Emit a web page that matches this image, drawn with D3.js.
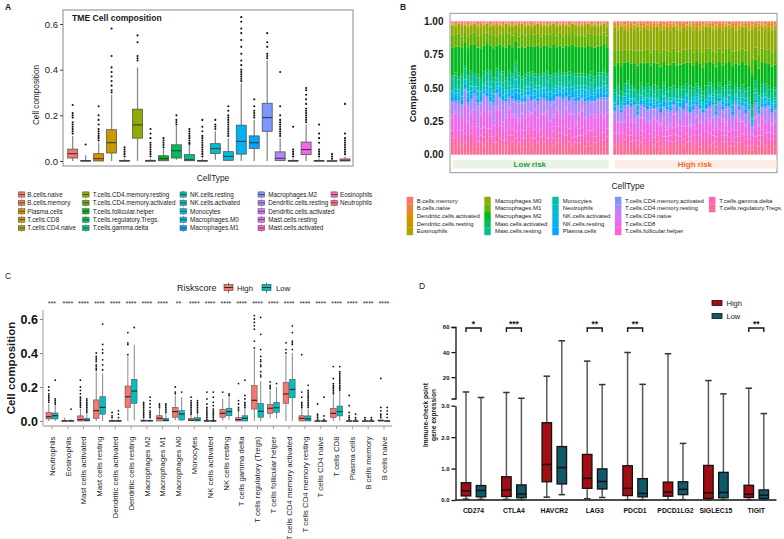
<!DOCTYPE html>
<html><head><meta charset="utf-8">
<script src="https://cdn.jsdelivr.net/npm/d3@7"></script>
<style>body{margin:0;background:#fff} svg{display:block}</style>
</head><body><svg id="c" width="784" height="539"></svg>
<script>
// ---------------- DATA ----------------
// Panel A
const cellTypesA = ["B.cells.naive","B.cells.memory","Plasma.cells","T.cells.CD8","T.cells.CD4.naive","T.cells.CD4.memory.resting","T.cells.CD4.memory.activated","T.cells.follicular.helper","T.cells.regulatory.Tregs.","T.cells.gamma.delta","NK.cells.resting","NK.cells.activated","Monocytes","Macrophages.M0","Macrophages.M1","Macrophages.M2","Dendritic.cells.resting","Dendritic.cells.activated","Mast.cells.resting","Mast.cells.activated","Eosinophils","Neutrophils"];
const aLo  = [0,0,0,0,0,0,0,0,0.005,0,0,0.005,0,0,0,0,0,0,0,0,0,0];
const aQ1  = [0.013,0,0,0.035,0,0.1,0,0.001,0.013,0.001,0,0.033,0.003,0.03,0.055,0.13,0.002,0,0.028,0,0,0];
const aMed = [0.032,0,0.01,0.08,0,0.158,0,0.01,0.045,0.005,0,0.054,0.02,0.086,0.08,0.19,0.012,0,0.05,0,0,0.003];
const aQ3  = [0.052,0.002,0.032,0.137,0.002,0.227,0.003,0.023,0.071,0.028,0.002,0.076,0.041,0.157,0.11,0.253,0.04,0.002,0.083,0.002,0.001,0.009];
const aHi  = [0.11,0.025,0.08,0.29,0.01,0.41,0.01,0.055,0.155,0.07,0.01,0.13,0.1,0.34,0.18,0.44,0.1,0.01,0.16,0.01,0.005,0.02];
const aOut = [
 [0.12,0.13,0.14,0.15,0.16,0.17,0.19,0.2,0.21,0.245],
 [0.072],
 [0.09,0.1,0.11,0.12,0.13,0.14,0.16,0.18,0.2,0.24],
 [0.3,0.31,0.33,0.35,0.37,0.39,0.41,0.46,0.58],
 [0.02,0.03,0.04,0.05,0.06],
 [0.44,0.45,0.46,0.52,0.55],
 [0.02,0.03,0.04,0.05,0.06,0.07,0.08,0.1,0.12,0.14],
 [0.06,0.07,0.08,0.09,0.1],
 [0.16,0.17,0.18,0.2],
 [0.075,0.08,0.09,0.1,0.11,0.12,0.13,0.14],
 [0.02,0.03,0.04,0.05,0.06,0.07,0.08,0.09,0.1,0.11,0.13,0.15,0.18],
 [0.14,0.15,0.16,0.18],
 [0.11,0.12,0.13,0.14,0.15,0.16,0.17,0.18,0.19,0.2,0.22,0.24],
 [0.35,0.36,0.37,0.38,0.39,0.4,0.42,0.44,0.47,0.5,0.53,0.56,0.58,0.61,0.63],
 [0.19,0.2,0.21,0.22,0.24,0.27],
 [0.45,0.46,0.47,0.5,0.52,0.56],
 [0.11,0.12,0.13,0.14,0.15,0.16,0.17,0.18,0.2,0.24,0.39],
 [0.02,0.03,0.04,0.05,0.15],
 [0.17,0.18,0.19,0.2,0.21,0.22,0.23,0.25,0.27,0.29,0.31,0.32],
 [0.02,0.03,0.04,0.05,0.08,0.1,0.12,0.16],
 [0.01,0.02,0.03],
 [0.03,0.04,0.05,0.06,0.07,0.08,0.09,0.1,0.12,0.25]
];
const aTicks = [0,0.2,0.4,0.6];

// Panel B
const bTypes = ["B.cells.memory","B.cells.naive","Dendritic.cells.activated","Dendritic.cells.resting","Eosinophils","Macrophages.M0","Macrophages.M1","Macrophages.M2","Mast.cells.activated","Mast.cells.resting","Monocytes","Neutrophils","NK.cells.activated","NK.cells.resting","Plasma.cells","T.cells.CD4.memory.activated","T.cells.CD4.memory.resting","T.cells.CD4.naive","T.cells.CD8","T.cells.follicular.helper","T.cells.gamma.delta","T.cells.regulatory.Tregs."];
const bGroups = ["Low risk","High risk"];
const bTicks = [0,0.25,0.5,0.75,1];
// per-sample fractions of colour bands (Tregs / pink / purple / blue / orange; green = remainder)
const bTregsLow  = [0.08,0.06,0.1,0.07,0.09,0.05,0.11,0.08,0.06,0.09,0.07,0.1,0.08,0.05,0.09,0.12,0.07,0.06,0.08,0.1,0.07,0.09,0.06,0.08,0.11,0.07,0.05,0.09,0.08,0.1,0.06,0.08,0.07,0.09,0.12,0.06,0.08,0.1,0.07,0.05,0.09,0.08,0.06,0.1,0.07,0.09,0.08,0.11,0.06,0.08];
const bPinkLow   = [0.2,0.25,0.16,0.22,0.28,0.18,0.2,0.24,0.15,0.21,0.27,0.19,0.23,0.17,0.25,0.2,0.14,0.22,0.26,0.18,0.21,0.16,0.24,0.2,0.19,0.23,0.28,0.17,0.22,0.2,0.25,0.15,0.21,0.24,0.18,0.2,0.26,0.19,0.23,0.17,0.21,0.25,0.2,0.16,0.22,0.19,0.24,0.18,0.21,0.23];
const bPurpleLow = [0.12,0.1,0.15,0.09,0.13,0.16,0.11,0.14,0.18,0.1,0.12,0.15,0.09,0.17,0.13,0.11,0.2,0.12,0.1,0.14,0.13,0.16,0.1,0.12,0.15,0.11,0.09,0.14,0.13,0.12,0.1,0.17,0.13,0.11,0.14,0.16,0.1,0.12,0.13,0.18,0.11,0.1,0.14,0.15,0.12,0.13,0.1,0.14,0.16,0.12];
const bBlueLow   = [0.1,0.12,0.08,0.14,0.09,0.11,0.13,0.07,0.12,0.1,0.08,0.11,0.15,0.09,0.1,0.12,0.13,0.08,0.11,0.1,0.22,0.12,0.09,0.11,0.08,0.13,0.1,0.12,0.09,0.11,0.14,0.1,0.12,0.08,0.1,0.11,0.09,0.13,0.1,0.12,0.11,0.09,0.12,0.1,0.13,0.08,0.11,0.1,0.12,0.09];
const bOrangeLow = [0.03,0.04,0.02,0.05,0.03,0.04,0.03,0.02,0.04,0.05,0.03,0.02,0.04,0.03,0.05,0.03,0.04,0.02,0.03,0.04,0.03,0.05,0.02,0.04,0.03,0.04,0.03,0.02,0.05,0.03,0.04,0.03,0.02,0.04,0.03,0.05,0.03,0.04,0.02,0.03,0.04,0.03,0.05,0.02,0.04,0.03,0.04,0.03,0.02,0.04];
const bTregsHigh  = [0.07,0.05,0.09,0.06,0.08,0.1,0.05,0.07,0.09,0.06,0.08,0.05,0.07,0.1,0.06,0.08,0.07,0.05,0.09,0.06,0.08,0.07,0.1,0.05,0.07,0.09,0.06,0.08,0.05,0.07,0.09,0.06,0.08,0.1,0.05,0.07,0.06,0.08,0.09,0.05,0.07,0.06,0.04,0.08,0.06,0.09,0.07,0.05,0.08,0.06];
const bPinkHigh   = [0.16,0.2,0.14,0.18,0.22,0.15,0.19,0.13,0.17,0.21,0.15,0.18,0.2,0.14,0.16,0.19,0.12,0.17,0.21,0.15,0.18,0.14,0.2,0.16,0.13,0.19,0.17,0.15,0.22,0.16,0.18,0.14,0.2,0.15,0.17,0.19,0.13,0.18,0.16,0.2,0.14,0.17,0.1,0.19,0.15,0.18,0.16,0.21,0.14,0.17];
const bPurpleHigh = [0.1,0.12,0.09,0.13,0.08,0.11,0.14,0.1,0.12,0.09,0.11,0.13,0.08,0.12,0.1,0.09,0.15,0.11,0.08,0.12,0.1,0.13,0.09,0.11,0.14,0.1,0.12,0.09,0.08,0.13,0.11,0.1,0.12,0.09,0.14,0.1,0.11,0.13,0.09,0.12,0.1,0.11,0.08,0.12,0.1,0.09,0.13,0.11,0.1,0.12];
const bBlueHigh   = [0.08,0.1,0.07,0.09,0.11,0.08,0.06,0.1,0.09,0.07,0.12,0.08,0.1,0.07,0.09,0.11,0.08,0.1,0.06,0.09,0.08,0.1,0.07,0.12,0.09,0.08,0.1,0.07,0.09,0.11,0.08,0.1,0.07,0.09,0.08,0.12,0.1,0.07,0.09,0.08,0.11,0.09,0.06,0.1,0.08,0.09,0.1,0.07,0.09,0.08];
const bOrangeHigh = [0.05,0.07,0.04,0.06,0.08,0.05,0.06,0.04,0.07,0.05,0.06,0.08,0.05,0.04,0.07,0.06,0.05,0.08,0.04,0.06,0.07,0.05,0.06,0.04,0.08,0.05,0.07,0.06,0.04,0.05,0.07,0.06,0.05,0.08,0.04,0.06,0.05,0.07,0.06,0.04,0.05,0.07,0.06,0.05,0.08,0.04,0.06,0.05,0.07,0.06];
// share of each cell type inside its colour band
const orangeShareLow = [0.3,0.25,0.15,0.15,0.15], orangeShareHigh = [0.2,0.2,0.15,0.2,0.25];
const greenShareLow  = [0.15,0.2,0.45,0.05,0.15], greenShareHigh  = [0.32,0.2,0.33,0.05,0.1];
const blueShare   = [0.25,0.05,0.3,0.15,0.25];
const purpleShare = [0.15,0.7,0.15];
const pinkShareLow = [0.5,0.25,0.25], pinkShareHigh = [0.45,0.25,0.3];

// Panel C
const cCats = ["Neutrophils","Eosinophils","Mast cells activated","Mast cells resting","Dendritic cells activated","Dendritic cells resting","Macrophages M2","Macrophages M1","Macrophages M0","Monocytes","NK cells activated","NK cells resting","T cells gamma delta","T cells regulatory (Tregs)","T cells follicular helper","T cells CD4 memory activated","T cells CD4 memory resting","T cells CD4 naive","T cells CD8","Plasma cells","B cells memory","B cells naive"];
const cSig = ["***","****","****","****","****","****","****","****","**","****","****","****","****","****","****","****","****","****","****","****","****","****"];
const cTicks = [0,0.2,0.4,0.6];
const cGroups = ["High","Low"];
const cHigh = [[0,0.012,0.025,0.051,0.1],[0,0,0,0.002,0.02],[0,0,0.008,0.03,0.07],[0,0.016,0.061,0.124,0.29],[0,0,0,0.002,0.01],[0,0.08,0.143,0.206,0.38],[0,0,0.001,0.005,0.012],[0,0,0.016,0.031,0.075],[0.005,0.022,0.055,0.08,0.15],[0,0.002,0.005,0.016,0.035],[0,0,0,0.002,0.005],[0.003,0.022,0.045,0.069,0.13],[0,0,0.008,0.02,0.05],[0,0.07,0.122,0.208,0.42],[0.015,0.045,0.075,0.098,0.18],[0,0.104,0.159,0.227,0.39],[0,0,0.016,0.031,0.075],[0,0,0,0.001,0.005],[0,0.02,0.045,0.075,0.15],[0,0,0,0.001,0.005],[0,0,0,0.001,0.005],[0,0,0.002,0.006,0.01]];
const cLow = [[0,0.012,0.031,0.047,0.095],[0,0,0,0.002,0.01],[0,0,0.005,0.016,0.04],[0,0.04,0.08,0.143,0.28],[0,0,0,0.002,0.01],[0.005,0.104,0.176,0.245,0.45],[0,0,0.001,0.004,0.01],[0,0,0.005,0.016,0.04],[0,0.006,0.041,0.061,0.14],[0,0,0.006,0.02,0.045],[0,0,0,0.002,0.005],[0.005,0.031,0.055,0.075,0.14],[0,0,0.016,0.031,0.075],[0,0.022,0.057,0.104,0.235],[0.015,0.051,0.078,0.11,0.2],[0,0.137,0.186,0.245,0.4],[0,0,0.012,0.03,0.07],[0,0,0,0.001,0.005],[0.002,0.03,0.055,0.088,0.17],[0,0,0,0.001,0.005],[0,0,0,0.001,0.005],[0,0,0,0.001,0.005]];
const cHighOut = [[0.11,0.12,0.13,0.14,0.15,0.16,0.18,0.2],[],[0.08,0.09,0.1,0.11,0.12,0.13,0.14,0.16,0.18,0.2,0.24],[0.3,0.31,0.32,0.33,0.35,0.36,0.37,0.38,0.4],[0.02,0.03,0.05],[0.39,0.45,0.46,0.52],[0.02,0.03,0.04,0.05,0.06,0.07,0.08,0.09,0.1,0.11],[0.08,0.09,0.1],[0.16,0.17,0.2],[0.04,0.05,0.06,0.07,0.08,0.09,0.1,0.11,0.12,0.14],[0.01,0.02,0.03,0.04,0.05,0.06,0.07,0.08,0.1,0.13,0.17],[0.17],[0.06,0.07,0.08,0.1,0.12,0.22],[0.43,0.47,0.54,0.56,0.58,0.6,0.62],[0.19,0.2,0.21,0.23],[0.4,0.42,0.46],[0.08,0.09,0.1,0.11,0.14,0.17,0.39],[0.01,0.02,0.03,0.04,0.1],[0.16,0.17,0.18,0.19,0.2,0.21,0.22,0.25,0.32],[0.01,0.02,0.03,0.05,0.09,0.15],[0.01,0.02],[0.02,0.03,0.04,0.06,0.08,0.25]];
const cLowOut = [[0.1,0.11,0.12,0.13,0.24],[0.07],[0.05,0.06,0.07,0.08,0.09,0.1,0.11,0.12,0.13],[0.3,0.33,0.36,0.4,0.42,0.45,0.57],[0.02,0.04,0.06],[0.55],[0.02,0.03,0.04,0.05,0.06,0.08,0.1,0.12,0.14],[0.05,0.06,0.07,0.08,0.09,0.1],[0.17],[0.05,0.06,0.07,0.08,0.09,0.1,0.11,0.12],[0.01,0.02,0.03,0.04,0.05,0.06,0.07,0.09,0.11,0.14,0.17],[0.15,0.16],[0.08,0.09,0.1,0.11,0.13,0.15,0.24],[0.26,0.27,0.29,0.32,0.33,0.35,0.36,0.38,0.42,0.51,0.61],[0.22],[0.42,0.45,0.46,0.47,0.52,0.56],[0.08,0.09,0.1,0.11,0.12,0.13,0.14,0.15,0.16,0.17,0.18,0.21],[0.01,0.03,0.14],[0.18,0.19,0.2,0.21,0.22,0.23,0.24,0.25,0.26,0.27,0.28,0.29,0.32],[0.01,0.02,0.04],[0.01,0.02],[0.02,0.04,0.06,0.08]];

// Panel D
const dGenes = ["CD274","CTLA4","HAVCR2","LAG3","PDCD1","PDCD1LG2","SIGLEC15","TIGIT"];
const dGroups = ["High","Low"];
const dHigh = [[0.03,0.13,0.29,0.55,8.2],[0.02,0.11,0.32,0.74,7.8],[0.09,0.58,1.13,2.46,20.8],[0.04,0.37,0.69,1.45,32.8],[0.01,0.14,0.37,1.09,39.7],[0.01,0.12,0.25,0.57,38.7],[0.01,0.05,0.23,1.1,17.3],[0.01,0.08,0.18,0.47,11.2]];
const dLow  = [[0.02,0.1,0.3,0.46,3.8],[0.01,0.07,0.19,0.48,3.2],[0.17,0.51,1.03,1.7,49],[0.08,0.35,0.59,0.99,14.1],[0.01,0.1,0.21,0.68,14.3],[0.01,0.17,0.34,0.58,1.8],[0.01,0.07,0.24,0.88,6.7],[0.01,0.05,0.15,0.32,2.75]];
const dSig = ["*","***","","**","**","","","**"];
const dTicksLow = [0,1,2,3], dTicksUp = [20,40,60];

// ---------------- HELPERS ----------------
const FONT = "'Liberation Sans', Arial, Helvetica, sans-serif";
function hclLuv(h, c, l) {
  const hr = h * Math.PI / 180, u = c * Math.cos(hr), v = c * Math.sin(hr);
  const Xn = 95.047, Yn = 100, Zn = 108.883, den = Xn + 15 * Yn + 3 * Zn;
  const un = 4 * Xn / den, vn = 9 * Yn / den;
  const Y = l > 8 ? Yn * Math.pow((l + 16) / 116, 3) : Yn * l / 903.3;
  const up = u / (13 * l) + un, vp = v / (13 * l) + vn;
  const X = 9 * Y * up / (4 * vp), Z = Y * (12 - 3 * up - 20 * vp) / (4 * vp);
  const x = X / 100, y = Y / 100, z = Z / 100;
  let rgb = [3.240479 * x - 1.537150 * y - 0.498535 * z, -0.969256 * x + 1.875992 * y + 0.041556 * z, 0.055648 * x - 0.204043 * y + 1.057311 * z];
  rgb = rgb.map(t => { t = t <= 0.0031308 ? 12.92 * t : 1.055 * Math.pow(t, 1 / 2.4) - 0.055; return Math.max(0, Math.min(1, t)) * 255; });
  return d3.rgb(rgb[0], rgb[1], rgb[2]).formatHex();
}
const pal22 = d3.range(22).map(i => hclLuv(15 + 360 * i / 22, 100, 65));
const pal2 = [hclLuv(15, 100, 65), hclLuv(195, 100, 65)];

function drawBox(g, cx, w, s, y, st) {
  const [lo, q1, md, q3, hi] = s;
  g.append("line").attr("x1", cx).attr("x2", cx).attr("y1", y(hi)).attr("y2", y(q3)).attr("stroke", st.whisker).attr("stroke-width", st.ww);
  g.append("line").attr("x1", cx).attr("x2", cx).attr("y1", y(q1)).attr("y2", y(lo)).attr("stroke", st.whisker).attr("stroke-width", st.ww);
  if (st.cap) {
    [hi, lo].forEach(v => g.append("line").attr("x1", cx - st.cap / 2).attr("x2", cx + st.cap / 2).attr("y1", y(v)).attr("y2", y(v)).attr("stroke", st.capColor).attr("stroke-width", st.ww));
  }
  g.append("rect").attr("x", cx - w / 2).attr("y", y(q3)).attr("width", w).attr("height", Math.max(0.5, y(q1) - y(q3)))
    .attr("fill", st.fill).attr("stroke", st.stroke).attr("stroke-width", st.sw);
  g.append("line").attr("x1", cx - w / 2).attr("x2", cx + w / 2).attr("y1", y(md)).attr("y2", y(md)).attr("stroke", st.med).attr("stroke-width", st.mw);
}
function txt(g, x, y, s, size, opt = {}) {
  const t = g.append("text").attr("x", x).attr("y", y).text(s).attr("font-family", FONT).attr("font-size", size)
    .attr("fill", opt.fill || "#1a1a1a").attr("text-anchor", opt.anchor || "start");
  if (opt.bold) t.attr("font-weight", "bold");
  if (opt.rotate) t.attr("transform", `rotate(${opt.rotate},${x},${y})`);
  return t;
}
const svg = d3.select("#c");

// ---------------- PANEL A ----------------
{
  const g = svg.append("g");
  txt(g, 5, 9.5, "A", 8.5, { bold: true });
  const x = d3.scaleBand().domain(cellTypesA).range([66.2, 351.5]);
  const y = d3.scaleLinear().domain([0, 0.6]).range([161, 24]);
  g.append("rect").attr("x", 63).attr("y", 10).attr("width", 290).attr("height", 156).attr("fill", "none").attr("stroke", "#7a7a7a").attr("stroke-width", 0.9);
  const ax = g.append("g").attr("transform", "translate(63,0)")
    .call(d3.axisLeft(y).tickValues(aTicks).tickFormat(d3.format(".1f")).tickSize(3).tickPadding(2));
  ax.select(".domain").remove();
  ax.selectAll("text").attr("font-size", 9.5).attr("font-family", FONT).attr("fill", "#1a1a1a");
  ax.selectAll("line").attr("stroke", "#444");
  txt(g, 72, 20.5, "TME Cell composition", 8.6, { bold: true });
  txt(g, 39, 95, "Cell composition", 8.2, { anchor: "middle", rotate: -90 });
  txt(g, 213, 181, "CellType", 8.3, { anchor: "middle" });
  cellTypesA.forEach((c, i) => {
    const cx = x(c) + x.bandwidth() / 2;
    drawBox(g, cx, 10, [aLo[i], aQ1[i], aMed[i], aQ3[i], aHi[i]], y,
      { fill: pal22[i], stroke: "#555", sw: 0.8, whisker: "#8a8a8a", ww: 1.3, med: "#333", mw: 1 });
    aOut[i].forEach(v => g.append("circle").attr("cx", cx).attr("cy", y(v)).attr("r", 1.05).attr("fill", "#111"));
  });
  // legend
  const colSw = [18.3, 82.5, 180, 258, 331], colTx = [27.3, 92.7, 190, 268.3, 340];
  cellTypesA.forEach((c, i) => {
    const col = Math.floor(i / 5), row = i % 5, cy = 194.5 + row * 8.4, sx = colSw[col];
    g.append("line").attr("x1", sx + 3.3).attr("x2", sx + 3.3).attr("y1", cy - 3.6).attr("y2", cy + 3.6).attr("stroke", "#777").attr("stroke-width", 0.8);
    g.append("rect").attr("x", sx).attr("y", cy - 2.6).attr("width", 6.6).attr("height", 5.2).attr("fill", pal22[i]).attr("stroke", "#555").attr("stroke-width", 0.5);
    g.append("line").attr("x1", sx).attr("x2", sx + 6.6).attr("y1", cy).attr("y2", cy).attr("stroke", "#333").attr("stroke-width", 0.7);
    txt(g, colTx[col], cy + 2.2, c, 6.3);
  });
}

// ---------------- PANEL B ----------------
{
  const g = svg.append("g");
  txt(g, 400, 9.5, "B", 8.5, { bold: true });
  const y = d3.scaleLinear().domain([0, 1]).range([154.7, 21.3]);
  g.append("rect").attr("x", 450).attr("y", 13.3).attr("width", 327).attr("height", 159.4).attr("fill", "none").attr("stroke", "#8a8a8a").attr("stroke-width", 0.9);
  const ax = g.append("g").attr("transform", "translate(450,0)").call(d3.axisLeft(y).tickValues(bTicks).tickFormat(d3.format(".2f")).tickSize(0).tickPadding(6.5));
  ax.select(".domain").remove();
  ax.selectAll("text").attr("font-size", 10).attr("font-weight", "bold").attr("font-family", FONT).attr("fill", "#1a1a1a");
  txt(g, 415.5, 93.5, "Composition", 9.4, { bold: true, anchor: "middle", rotate: -90 });
  const ranges = [[451, 608.7], [613.3, 776.6]];
  const strips = [{ fill: "#EAF3E5", col: "#2E9B47" }, { fill: "#FBEDE5", col: "#F0682F" }];
  const stackKeys = bTypes.slice().reverse();
  const groupsData = [
    { tr: bTregsLow, pk: bPinkLow, pu: bPurpleLow, bl: bBlueLow, or: bOrangeLow, os: orangeShareLow, gs: greenShareLow, ps: pinkShareLow },
    { tr: bTregsHigh, pk: bPinkHigh, pu: bPurpleHigh, bl: bBlueHigh, or: bOrangeHigh, os: orangeShareHigh, gs: greenShareHigh, ps: pinkShareHigh }
  ];
  groupsData.forEach((G, gi) => {
    const rows = G.tr.map((t, j) => {
      const green = 1 - (t + G.pk[j] + G.pu[j] + G.bl[j] + G.or[j]);
      const vals = [...G.os.map(s => s * G.or[j]), ...G.gs.map(s => s * green), ...blueShare.map(s => s * G.bl[j]),
        ...purpleShare.map(s => s * G.pu[j]), ...G.ps.map(s => s * G.pk[j]), t];
      const r = { id: j };
      bTypes.forEach((k, m) => r[k] = vals[m]);
      return r;
    });
    const x = d3.scaleBand().domain(rows.map(r => r.id)).range(ranges[gi]).paddingInner(0.12);
    const series = d3.stack().keys(stackKeys)(rows);
    series.forEach(s => {
      const col = pal22[bTypes.indexOf(s.key)];
      g.append("g").selectAll("rect").data(s).join("rect")
        .attr("x", d => x(d.data.id)).attr("width", x.bandwidth())
        .attr("y", d => y(d[1])).attr("height", d => Math.max(0, y(d[0]) - y(d[1]))).attr("fill", col);
    });
    g.append("rect").attr("x", ranges[gi][0] + 1.5).attr("y", 160).attr("width", ranges[gi][1] - ranges[gi][0] - 1.5).attr("height", 8.4).attr("fill", strips[gi].fill);
    txt(g, (ranges[gi][0] + ranges[gi][1]) / 2, 167.3, bGroups[gi], 8, { anchor: "middle", bold: true, fill: strips[gi].col });
  });
  txt(g, 628, 188.5, "CellType", 8.5, { anchor: "middle" });
  const colSw = [406.7, 484.3, 552.3, 615, 709], colTx = [416.7, 495, 562.7, 625, 719.3];
  bTypes.forEach((c, i) => {
    const col = Math.floor(i / 5), row = i % 5, cy = 200.7 + row * 7.65;
    g.append("rect").attr("x", colSw[col]).attr("y", cy - 3.9).attr("width", 6.4).attr("height", 7.8).attr("fill", pal22[i]);
    txt(g, colTx[col], cy + 2.1, c, 6);
  });
}

// ---------------- PANEL C ----------------
{
  const g = svg.append("g");
  txt(g, 5, 279, "C", 8.5);
  const x = d3.scaleBand().domain(cCats).range([44.1, 391.9]);
  const y = d3.scaleLinear().domain([0, 0.6]).range([421, 319]);
  g.append("line").attr("x1", 43).attr("x2", 43).attr("y1", 310).attr("y2", 426).attr("stroke", "#b3b3b3").attr("stroke-width", 1.3);
  g.append("line").attr("x1", 43).attr("x2", 392).attr("y1", 426).attr("y2", 426).attr("stroke", "#b3b3b3").attr("stroke-width", 1.3);
  const ax = g.append("g").attr("transform", "translate(43,0)").call(d3.axisLeft(y).tickValues(cTicks).tickFormat(d3.format(".1f")).tickSize(3).tickPadding(2));
  ax.select(".domain").remove();
  ax.selectAll("line").attr("stroke", "#888");
  ax.selectAll("text").attr("font-size", 12.5).attr("font-weight", "bold").attr("font-family", FONT).attr("fill", "#111");
  txt(g, 14.5, 368, "Cell composition", 11.5, { bold: true, anchor: "middle", rotate: -90 });
  cCats.forEach((c, i) => {
    const cx = x(c) + x.bandwidth() / 2;
    g.append("line").attr("x1", cx).attr("x2", cx).attr("y1", 426).attr("y2", 429).attr("stroke", "#888").attr("stroke-width", 0.8);
    txt(g, cx, 305.5, cSig[i], 6.8, { anchor: "middle", fill: "#222" });
    txt(g, cx + 2.7, 436.5, c, 7.8, { anchor: "end", rotate: -90 });
    [[cHigh[i], cHighOut[i], -3.2, 0], [cLow[i], cLowOut[i], 3.2, 1]].forEach(([s, out, off, k]) => {
      drawBox(g, cx + off, 5.6, s, y, { fill: pal2[k], stroke: "#555", sw: 0.6, whisker: "#666", ww: 0.8, med: "#222", mw: 1.1 });
      out.forEach(v => g.append("circle").attr("cx", cx + off).attr("cy", y(v)).attr("r", 0.9).attr("fill", "#111"));
    });
  });
  // legend
  txt(g, 177, 290.5, "Riskscore", 9);
  [[224, 237, 0], [262, 276, 1]].forEach(([sx, tx, k]) => {
    g.append("line").attr("x1", sx + 4.5).attr("x2", sx + 4.5).attr("y1", 282.5).attr("y2", 293).attr("stroke", "#555").attr("stroke-width", 0.8);
    g.append("rect").attr("x", sx).attr("y", 284.5).attr("width", 9).attr("height", 6).attr("fill", pal2[k]).attr("stroke", "#444").attr("stroke-width", 0.6);
    g.append("line").attr("x1", sx).attr("x2", sx + 9).attr("y1", 287.5).attr("y2", 287.5).attr("stroke", "#222").attr("stroke-width", 0.9);
    txt(g, tx, 290.5, cGroups[k], 7.8);
  });
}

// ---------------- PANEL D ----------------
{
  const g = svg.append("g");
  txt(g, 419, 289, "D", 8.5);
  const x = d3.scaleBand().domain(dGenes).range([453.3, 776.5]);
  const yLow = d3.scaleLinear().domain([0, 3]).range([500, 405.7]);
  const yUp = d3.scaleLinear().domain([3, 60]).range([398.5, 327]);
  const y = v => (v <= 3 ? yLow(v) : yUp(v));
  const fills = ["#A20E13", "#115869"];
  const a1 = g.append("g").attr("transform", "translate(455.5,0)").call(d3.axisLeft(yLow).tickValues(dTicksLow).tickSize(4).tickSizeOuter(0).tickPadding(2));
  const a2 = g.append("g").attr("transform", "translate(455.5,0)").call(d3.axisLeft(yUp).tickValues(dTicksUp).tickSize(4).tickSizeOuter(4).tickPadding(2));
  [a1, a2].forEach(a => {
    a.selectAll("path,line").attr("stroke", "#111").attr("stroke-width", 1.3);
    a.selectAll("text").attr("font-size", 6).attr("font-weight", "bold").attr("font-family", FONT).attr("fill", "#111");
  });
  g.append("line").attr("x1", 455.5).attr("x2", 776.5).attr("y1", 500).attr("y2", 500).attr("stroke", "#111").attr("stroke-width", 1.3);
  txt(g, 428, 415, "Immune-check point", 6.6, { bold: true, anchor: "middle", rotate: -90 });
  txt(g, 436, 415, "gene expression", 6.6, { bold: true, anchor: "middle", rotate: -90 });
  dGenes.forEach((gn, i) => {
    const cx = x(gn) + x.bandwidth() / 2;
    [[dHigh[i], -7.5, 0], [dLow[i], 7.5, 1]].forEach(([s, off, k]) => {
      drawBox(g, cx + off, 9.5, s, y, { fill: fills[k], stroke: "#111", sw: 1.3, whisker: "#5a5a5a", ww: 1.5, med: "#111", mw: 1.5, cap: 6.5, capColor: "#333" });
    });
    txt(g, cx, 512.5, gn, 6.8, { bold: true, anchor: "middle", fill: "#111" });
    if (dSig[i]) {
      const x1 = cx - 7.5, x2 = cx + 7.5;
      g.append("path").attr("d", `M${x1},332V328H${x2}V332`).attr("fill", "none").attr("stroke", "#111").attr("stroke-width", 1.4);
      txt(g, cx, 326.8, dSig[i], 8.5, { bold: true, anchor: "middle", fill: "#111" });
    }
  });
  // legend
  dGroups.forEach((n, k) => {
    const cy = 303 + k * 13;
    g.append("rect").attr("x", 712).attr("y", cy - 2.5).attr("width", 10).attr("height", 5).attr("fill", fills[k]).attr("stroke", "#111").attr("stroke-width", 0.8);
    txt(g, 726.5, cy + 2.6, n, 7.5);
  });
}
</script></body></html>
